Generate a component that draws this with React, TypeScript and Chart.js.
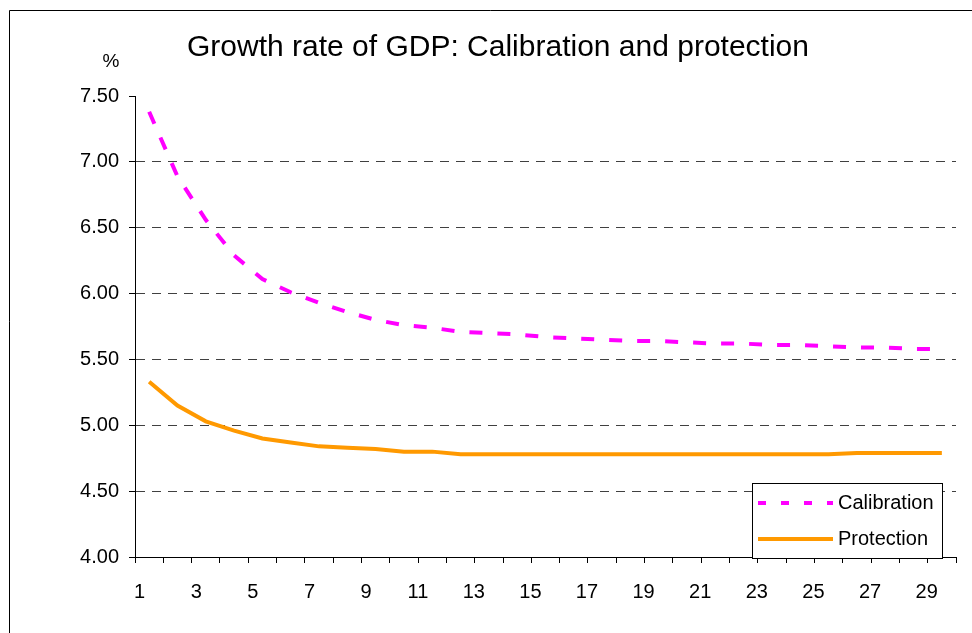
import React, { useEffect, useRef } from 'react';
import { Chart, registerables } from 'chart.js';

Chart.register(...registerables);

// Period index (1..29)
const periods: string[] = [
  '1', '2', '3', '4', '5', '6', '7', '8', '9', '10',
  '11', '12', '13', '14', '15', '16', '17', '18', '19', '20',
  '21', '22', '23', '24', '25', '26', '27', '28', '29',
];

// GDP growth rate, %, calibration scenario
const calibration: number[] = [
  7.38, 6.89, 6.56, 6.29, 6.11, 6.01, 5.93, 5.86, 5.80, 5.76,
  5.74, 5.71, 5.70, 5.69, 5.67, 5.66, 5.65, 5.64, 5.64, 5.63,
  5.62, 5.62, 5.61, 5.61, 5.60, 5.59, 5.59, 5.58, 5.58,
];

// GDP growth rate, %, protection scenario
const protection: number[] = [
  5.33, 5.15, 5.03, 4.96, 4.90, 4.87, 4.84, 4.83, 4.82, 4.80,
  4.80, 4.78, 4.78, 4.78, 4.78, 4.78, 4.78, 4.78, 4.78, 4.78,
  4.78, 4.78, 4.78, 4.78, 4.78, 4.79, 4.79, 4.79, 4.79,
];

const seriesNames: string[] = ['Calibration', 'Protection'];
const titleText = 'Growth rate of GDP: Calibration and protection';
const unitText = '%';

const FONT = '"Liberation Sans", Arial, Helvetica, sans-serif';

const decorPlugin = {
  id: 'decor',
  beforeDraw(chart: any) {
    const { ctx, width, height } = chart;
    ctx.save();
    ctx.fillStyle = '#ffffff';
    ctx.fillRect(0, 0, width, height);
    // outer frame (left and top edges)
    ctx.strokeStyle = '#000000';
    ctx.lineWidth = 1;
    ctx.beginPath();
    ctx.moveTo(9.5, height);
    ctx.lineTo(9.5, 10.5);
    ctx.lineTo(width, 10.5);
    ctx.stroke();
    // title
    ctx.fillStyle = '#000000';
    ctx.font = `30px ${FONT}`;
    ctx.textAlign = 'center';
    ctx.textBaseline = 'middle';
    ctx.fillText(titleText, 498, 48);
    // unit label
    ctx.font = `19px ${FONT}`;
    ctx.fillText(unitText, 111, 62);
    ctx.restore();
  },
  afterDraw(chart: any) {
    const { ctx, chartArea } = chart;
    const boxRight = chartArea.right - 13;
    const boxBottom = chartArea.bottom + 2;
    const boxW = 191;
    const boxH = 76;
    const left = boxRight - boxW;
    const top = boxBottom - boxH;
    ctx.save();
    ctx.fillStyle = '#ffffff';
    ctx.fillRect(left, top, boxW, boxH);
    ctx.strokeStyle = '#000000';
    ctx.lineWidth = 1;
    ctx.strokeRect(Math.round(left) + 0.5, Math.round(top) + 0.5, boxW - 1, boxH - 1);
    const rows = [top + 20, top + 56];
    chart.data.datasets.forEach((ds: any, i: number) => {
      const y = rows[i];
      ctx.beginPath();
      ctx.strokeStyle = ds.borderColor;
      ctx.lineWidth = 4;
      ctx.lineCap = 'butt';
      ctx.setLineDash(i === 0 ? [8, 15] : []);
      ctx.moveTo(left + 6, y);
      ctx.lineTo(left + 81, y);
      ctx.stroke();
      ctx.setLineDash([]);
      ctx.fillStyle = '#000000';
      ctx.font = `20px ${FONT}`;
      ctx.textAlign = 'left';
      ctx.textBaseline = 'middle';
      ctx.fillText(ds.label, left + 86, y);
    });
    ctx.restore();
  },
};

export default function App() {
  const canvasRef = useRef<HTMLCanvasElement | null>(null);

  useEffect(() => {
    document.body.style.margin = '0';
    const canvas = canvasRef.current;
    if (!canvas) return;
    const chart = new Chart(canvas, {
      type: 'line',
      data: {
        labels: periods,
        datasets: [
          {
            label: seriesNames[0],
            data: calibration,
            borderColor: '#FF00FF',
            backgroundColor: '#FF00FF',
            borderWidth: 4,
            borderDash: [13, 15],
            borderCapStyle: 'butt',
            pointRadius: 0,
            tension: 0,
            fill: false,
          },
          {
            label: seriesNames[1],
            data: protection,
            borderColor: '#FF9900',
            backgroundColor: '#FF9900',
            borderWidth: 4,
            pointRadius: 0,
            tension: 0,
            fill: false,
          },
        ],
      },
      options: {
        responsive: false,
        animation: false,
        devicePixelRatio: 1,
        layout: { padding: { top: 96, right: 16, bottom: 0, left: 0 } },
        plugins: {
          legend: { display: false },
          title: { display: false },
          tooltip: { enabled: false },
        },
        scales: {
          x: {
            type: 'category',
            offset: true,
            afterFit: (s: any) => { s.height = 76; },
            grid: {
              offset: true,
              drawOnChartArea: false,
              drawTicks: true,
              tickLength: 6,
              tickColor: '#000000',
              color: '#000000',
            },
            border: { display: true, color: '#000000', width: 1 },
            ticks: {
              autoSkip: false,
              maxRotation: 0,
              minRotation: 0,
              align: 'end',
              labelOffset: -4,
              padding: 17,
              color: '#000000',
              font: { family: FONT, size: 20 },
              callback: (_v: any, i: number) => (i % 2 === 0 ? periods[i] : ''),
            },
          },
          y: {
            min: 4,
            max: 7.5,
            afterFit: (s: any) => { s.width = 135; },
            grid: {
              color: (c: any) =>
                c.tick && (c.tick.value >= 7.5 || c.tick.value <= 4) ? 'rgba(0,0,0,0)' : '#404040',
              tickColor: '#000000',
              tickLength: 6,
              tickBorderDash: [],
              lineWidth: 1,
            },
            border: { display: true, color: '#000000', width: 1, dash: [9, 7] },
            ticks: {
              stepSize: 0.5,
              padding: 10,
              color: '#000000',
              font: { family: FONT, size: 20 },
              callback: (v: any) => Number(v).toFixed(2),
            },
          },
        },
      },
      plugins: [decorPlugin],
    } as any);
    return () => chart.destroy();
  }, []);

  return (
    <div style={{ position: 'absolute', left: 0, top: 0, width: 972, height: 633 }}>
      <canvas ref={canvasRef} width={972} height={633} />
    </div>
  );
}
